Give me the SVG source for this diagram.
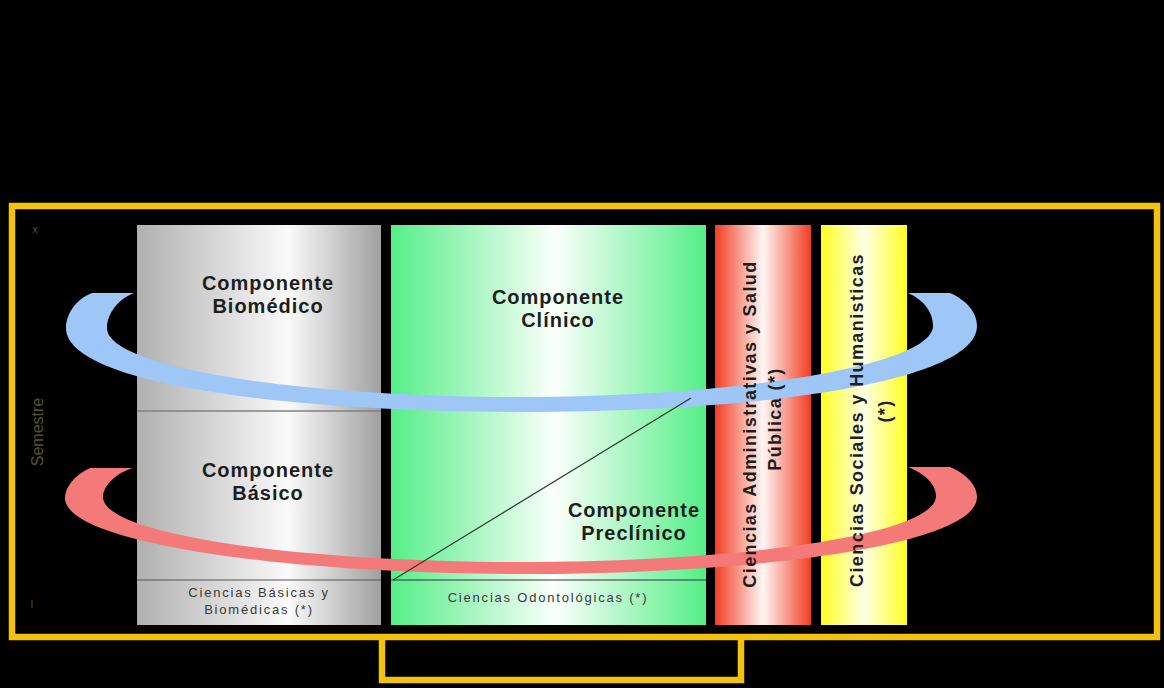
<svg xmlns="http://www.w3.org/2000/svg" width="1164" height="688" viewBox="0 0 1164 688">
<style>
.big{font-family:"Liberation Sans",Arial,sans-serif;font-weight:bold;font-size:20px;letter-spacing:1px;fill:#1e1e1e;text-anchor:middle}
.small{font-family:"Liberation Sans",Arial,sans-serif;font-size:13px;letter-spacing:1.8px;fill:#3a3a3a;text-anchor:middle}
.vert{font-family:"Liberation Sans",Arial,sans-serif;font-weight:bold;font-size:18px;letter-spacing:1.4px;fill:#1e1e1e;text-anchor:middle}
.dim{font-family:"Liberation Sans",Arial,sans-serif;fill:#5a532c;text-anchor:middle}
.frame{fill:none;stroke:#f2c20e;stroke-width:6.5}
</style>
<defs>
<linearGradient id="gGray" x1="0" y1="0" x2="1" y2="0">
<stop offset="0" stop-color="#b0b0b0"/><stop offset="0.62" stop-color="#fafafa"/><stop offset="1" stop-color="#a0a0a0"/>
</linearGradient>
<linearGradient id="gGreen" x1="0" y1="0" x2="1" y2="0">
<stop offset="0" stop-color="#55ee88"/><stop offset="0.52" stop-color="#fbfffb"/><stop offset="1" stop-color="#55ee88"/>
</linearGradient>
<linearGradient id="gRed" x1="0" y1="0" x2="1" y2="0">
<stop offset="0" stop-color="#f23d22"/><stop offset="0.5" stop-color="#fff6f4"/><stop offset="1" stop-color="#f23d22"/>
</linearGradient>
<linearGradient id="gYellow" x1="0" y1="0" x2="1" y2="0">
<stop offset="0" stop-color="#ffff22"/><stop offset="0.5" stop-color="#ffffe6"/><stop offset="1" stop-color="#ffff22"/>
</linearGradient>
</defs>
<rect x="0" y="0" width="1164" height="688" fill="#000"/>
<g id="frame">
<rect class="frame" x="12" y="206" width="1145" height="431"/>
<path class="frame" d="M382,637 V680 H741 V637"/>
</g>
<g id="axis">
<text class="dim" font-size="16" transform="translate(43,432) rotate(-90)">Semestre</text>
<text class="dim" font-size="10" x="35" y="233">x</text>
<text class="dim" font-size="10" x="32" y="608">I</text>
</g>
<g id="col-basico-box">
<rect x="137" y="225" width="244" height="400" fill="url(#gGray)"/>
<line x1="137" y1="411" x2="381" y2="411" stroke="#808080" stroke-width="1.5"/>
</g>
<g id="col-clinico-box">
<rect x="391" y="225" width="315" height="400" fill="url(#gGreen)"/>
</g>
<g id="col-admin-box">
<rect x="715" y="225" width="96" height="400" fill="url(#gRed)"/>
</g>
<g id="col-social-box">
<rect x="821" y="225" width="86" height="400" fill="url(#gYellow)"/>
</g>
<g id="connectors">
<path fill="#9ec6f6" d="M134,293 L92,293 C76,299 66,314 66,328 C66,386 300,412 521,412 C760,412 977,382 977,326 C977,312 966,300 950,293 L908,293 C924,300 933,312 933,326 C933,365 740,397 520,397 C300,397 107,368 107,328 C107,314 118,299 134,293 Z"/>
<path fill="#f47a7a" d="M133,468 L90,468 C74,475 65,488 65,498 C65,545 300,574 521,574 C760,574 977,545 977,497 C977,485 965,473 950,467 L908,467 C925,474 936,484 936,496 C936,535 740,562 520,562 C300,562 103,535 103,497 C103,485 118,472 133,468 Z"/>
</g>
<g id="col-basico">
<line x1="137" y1="580" x2="381" y2="580" stroke="#555" stroke-width="1"/>
<text class="big" x="268" y="290">Componente</text>
<text class="big" x="268" y="313">Biomédico</text>
<text class="big" x="268" y="477">Componente</text>
<text class="big" x="268" y="500">Básico</text>
<text class="small" x="259" y="597">Ciencias Básicas y</text>
<text class="small" x="259" y="614">Biomédicas (*)</text>
</g>
<g id="col-clinico">
<line x1="391" y1="580" x2="706" y2="580" stroke="#333" stroke-width="1"/>
<line x1="393" y1="580" x2="691" y2="398" stroke="#24402c" stroke-width="1.2"/>
<text class="big" x="558" y="304">Componente</text>
<text class="big" x="558" y="327">Clínico</text>
<text class="big" x="634" y="517">Componente</text>
<text class="big" x="634" y="540">Preclínico</text>
<text class="small" x="548" y="602">Ciencias Odontológicas (*)</text>
</g>
<g id="col-admin">
<text class="vert" transform="translate(756,424) rotate(-90)">Ciencias Administrativas y Salud</text>
<text class="vert" transform="translate(781,419) rotate(-90)">Pública (*)</text>
</g>
<g id="col-social">
<text class="vert" transform="translate(863,420) rotate(-90)">Ciencias Sociales y Humanisticas</text>
<text class="vert" transform="translate(891,411) rotate(-90)">(*)</text>
</g>
</svg>
